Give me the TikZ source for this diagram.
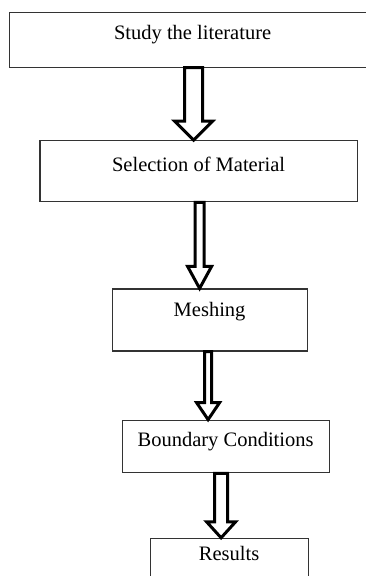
\documentclass[tikz,border=0pt]{standalone}
\usepackage{fontspec}
\setmainfont{Liberation Serif}
\usepackage{tikz}
\usetikzlibrary{calc,positioning}

% block arrow from the bottom of one box to the top of the next
\newcommand{\blockarrow}[6]{%
  \draw[hollow] let \p1=([xshift=#3]#1.south), \p2=(#2.north) in
    (\x1-#4,\y1) -- (\x1-#4,\y2+#6) -- (\x1-#5,\y2+#6) -- (\x1,\y2)
    -- (\x1+#5,\y2+#6) -- (\x1+#4,\y2+#6) -- (\x1+#4,\y1) -- cycle;}

\begin{document}
\begin{tikzpicture}[
    x=1pt, y=1pt,
    stage/.style={rectangle, draw=black!80, line width=1.2pt, inner xsep=4pt, inner ysep=0pt, align=center, font=\fontsize{20.5}{22}\selectfont},
    hollow/.style={draw=black, line width=3pt, fill=white, line join=miter}
]
\useasboundingbox (-9,11.5) rectangle (357,-564.5);

% Study
\node[stage, anchor=north west, minimum width=366pt, text height=27pt, text depth=28pt] (study) at (0,0) {Study the literature};

% Material
\node[stage, below=72.5pt of study, xshift=6pt, minimum width=317pt, text height=31pt, text depth=30pt] (select) {Selection of Material};

% Meshing
\node[stage, below=86pt of select, xshift=11pt, minimum width=195pt, text height=27pt, text depth=35pt] (mesh) {Meshing};

% Boundary
\node[stage, below=68pt of mesh, xshift=16pt, minimum width=207pt, text height=26pt, text depth=26.5pt] (bound) {Boundary Conditions};

% Results
\node[stage, below=64.5pt of bound, xshift=3.5pt, minimum width=158pt, text height=22pt, text depth=40pt] (results) {Results};

% Arrows
\blockarrow{study}{select}{1pt}{9pt}{19pt}{19pt}
\blockarrow{select}{mesh}{1pt}{4.5pt}{12pt}{22pt}
\blockarrow{mesh}{bound}{-1.5pt}{3.5pt}{11.5pt}{17pt}
\blockarrow{bound}{results}{-4.5pt}{6.5pt}{14.5pt}{16pt}

\end{tikzpicture}
\end{document}
